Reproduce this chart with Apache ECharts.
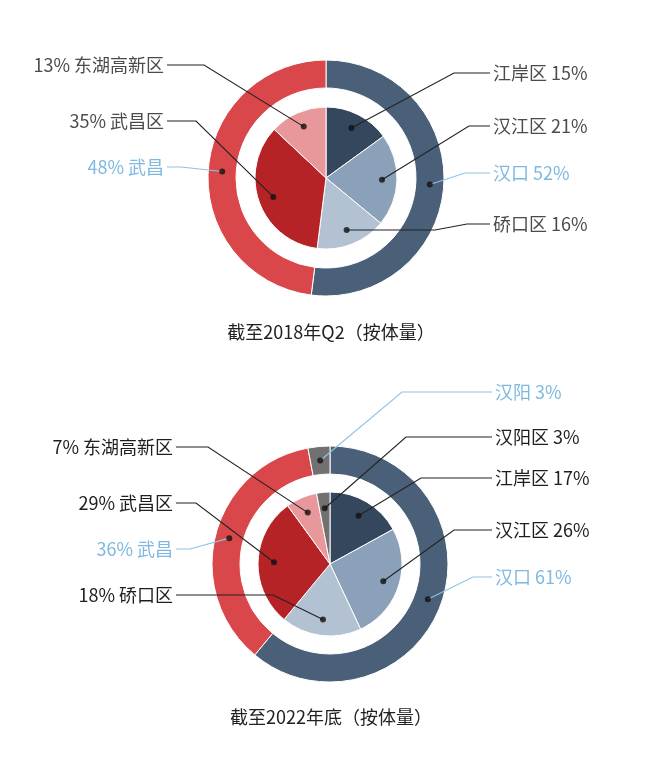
<!DOCTYPE html>
<html>
<head>
<meta charset="utf-8">
<script src="https://cdn.jsdelivr.net/npm/echarts@6/dist/echarts.min.js"></script>
<style>
  html, body { margin: 0; padding: 0; background: #fff; }
  #main { width: 650px; height: 761px; }
</style>
</head>
<body>
<div id="main"></div>
<script>
// 截至2018年Q2
var outer2018Names = ['汉口', '武昌'];
var outer2018Values = [52, 48];
var inner2018Names = ['江岸区', '汉江区', '硚口区', '武昌区', '东湖高新区'];
var inner2018Values = [15, 21, 16, 35, 13];

// 截至2022年底
var outer2022Names = ['汉口', '武昌', '汉阳'];
var outer2022Values = [61, 36, 3];
var inner2022Names = ['江岸区', '汉江区', '硚口区', '武昌区', '东湖高新区', '汉阳区'];
var inner2022Values = [17, 26, 18, 29, 7, 3];

var titles = ['截至2018年Q2（按体量）', '截至2022年底（按体量）'];

var colorOf = {
    '汉口': '#4a5f78', '武昌': '#d9474b', '汉阳': '#737071',
    '江岸区': '#35475d', '汉江区': '#8ba1b9', '硚口区': '#b3c2d3',
    '武昌区': '#b52327', '东湖高新区': '#e8979b', '汉阳区': '#737071'
};

var font = '"Noto Sans CJK SC", "Noto Sans", sans-serif';
var blue = '#7db9e0';

// 两组图的几何参数
var charts = [
    { cx: 326, cy: 178, outer: [90, 118], inner: 71, leftX: 164, rightX: 493, text: '#4b4b4b', titleY: 332 },
    { cx: 330, cy: 564, outer: [90, 118], inner: 72, leftX: 173, rightX: 495, text: '#1e1e1e', titleY: 717 }
];

// 标签位置和折点 (按 dataIndex)
var labelPlaces = {
    o2018: [
        { side: 'right', y: 173, bend: [[465, 173]] },
        { side: 'left', y: 167, bend: [[181, 167]] }
    ],
    i2018: [
        { side: 'right', y: 73, bend: [[454, 73]] },
        { side: 'right', y: 126, bend: [[469, 126]] },
        { side: 'right', y: 224, bend: [[435, 230], [467, 224]] },
        { side: 'left', y: 121, bend: [[196, 121]] },
        { side: 'left', y: 65, bend: [[204, 65]] }
    ],
    o2022: [
        { side: 'right', y: 577, bend: [[473, 577]] },
        { side: 'left', y: 549, bend: [[190, 549]] },
        { side: 'right', y: 392, bend: [[402, 392]] }
    ],
    i2022: [
        { side: 'right', y: 478, bend: [[421, 478]] },
        { side: 'right', y: 530, bend: [[454, 530]] },
        { side: 'left', y: 595, bend: [[273, 595]] },
        { side: 'left', y: 503, bend: [[196, 503]] },
        { side: 'left', y: 447, bend: [[208, 447]] },
        { side: 'right', y: 437, bend: [[406, 437]] }
    ]
};

var dotR = { outer: 104, inner: 56 };

function midAngles(values) {
    var total = 0, acc = 0, out = [];
    values.forEach(function (v) { total += v; });
    values.forEach(function (v) {
        out.push((acc + v / 2) / total * 100);
        acc += v;
    });
    return out;
}

function dotPoint(c, r, pct) {
    var a = pct / 100 * Math.PI * 2;
    return [c.cx + r * Math.sin(a), c.cy - r * Math.cos(a)];
}

function labelX(c, p) {
    return p.side === 'left' ? c.leftX : c.rightX;
}

function makeLayout(c, places) {
    return function (params) {
        var p = places[params.dataIndex];
        return {
            x: labelX(c, p),
            y: p.y,
            align: p.side === 'left' ? 'right' : 'left',
            verticalAlign: 'middle'
        };
    };
}

// 引线: 扇区内的点 -> 折点 -> 标签
function leaderLines(c, values, places, isOuter) {
    var mids = midAngles(values);
    var r = isOuter ? dotR.outer : dotR.inner;
    return values.map(function (v, i) {
        var p = places[i];
        var x = labelX(c, p);
        var end = p.side === 'left' ? x + 3 : x - 3;
        return {
            type: 'polyline',
            z: 100,
            silent: true,
            shape: { points: [dotPoint(c, r, mids[i])].concat(p.bend, [[end, p.y]]) },
            style: { stroke: isOuter ? '#8fc3e4' : '#222', lineWidth: 1.1, fill: null }
        };
    });
}

function pieData(names, values) {
    return names.map(function (n, i) {
        return { name: n, value: values[i], itemStyle: { color: colorOf[n] } };
    });
}

function pieSeries(c, names, values, places, isOuter, z) {
    return {
        type: 'pie',
        center: [c.cx, c.cy],
        radius: isOuter ? c.outer : [0, c.inner],
        startAngle: 90,
        clockwise: true,
        avoidLabelOverlap: false,
        silent: true,
        z: z,
        itemStyle: { borderColor: '#fff', borderWidth: 1 },
        data: pieData(names, values),
        label: {
            show: true,
            position: 'outside',
            fontFamily: font,
            fontSize: 18,
            color: isOuter ? blue : c.text,
            formatter: function (p) {
                var pl = places[p.dataIndex];
                return pl.side === 'left' ? p.value + '% ' + p.name : p.name + ' ' + p.value + '%';
            }
        },
        labelLine: { show: false },
        labelLayout: makeLayout(c, places)
    };
}

function dotSeries(polarIndex, outerValues, innerValues) {
    var pts = [];
    midAngles(outerValues).forEach(function (a) { pts.push([dotR.outer, a]); });
    midAngles(innerValues).forEach(function (a) { pts.push([dotR.inner, a]); });
    return {
        type: 'scatter',
        coordinateSystem: 'polar',
        polarIndex: polarIndex,
        symbolSize: 6,
        itemStyle: { color: '#111' },
        silent: true,
        z: 200,
        data: pts
    };
}

var chart = echarts.init(document.getElementById('main'));

var graphics = charts.map(function (c, i) {
    return {
        type: 'text',
        x: 331,
        y: c.titleY,
        style: {
            text: titles[i],
            fontFamily: font,
            fontSize: 18,
            fill: '#222',
            align: 'center',
            verticalAlign: 'middle'
        }
    };
}).concat(
    leaderLines(charts[0], outer2018Values, labelPlaces.o2018, true),
    leaderLines(charts[0], inner2018Values, labelPlaces.i2018, false),
    leaderLines(charts[1], outer2022Values, labelPlaces.o2022, true),
    leaderLines(charts[1], inner2022Values, labelPlaces.i2022, false)
);

var option = {
    backgroundColor: '#fff',
    animation: false,
    polar: charts.map(function (c) { return { center: [c.cx, c.cy], radius: 118 }; }),
    angleAxis: [0, 1].map(function (i) {
        return { polarIndex: i, type: 'value', min: 0, max: 100, startAngle: 90, clockwise: true, show: false };
    }),
    radiusAxis: [0, 1].map(function (i) {
        return { polarIndex: i, type: 'value', min: 0, max: 118, show: false };
    }),
    graphic: graphics,
    series: [
        pieSeries(charts[0], outer2018Names, outer2018Values, labelPlaces.o2018, true, 2),
        pieSeries(charts[0], inner2018Names, inner2018Values, labelPlaces.i2018, false, 3),
        pieSeries(charts[1], outer2022Names, outer2022Values, labelPlaces.o2022, true, 2),
        pieSeries(charts[1], inner2022Names, inner2022Values, labelPlaces.i2022, false, 3),
        dotSeries(0, outer2018Values, inner2018Values),
        dotSeries(1, outer2022Values, inner2022Values)
    ]
};

chart.setOption(option);
</script>
</body>
</html>
